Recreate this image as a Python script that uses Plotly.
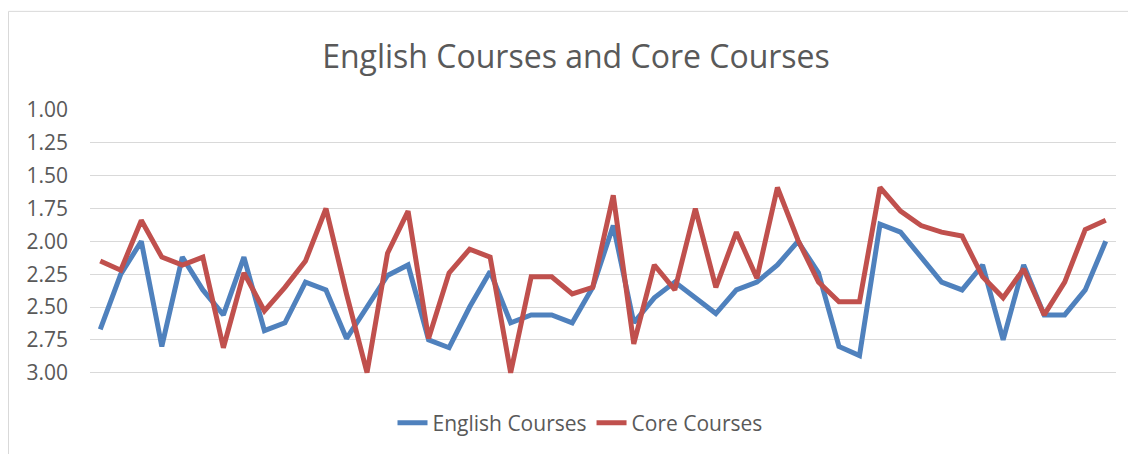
import plotly.graph_objects as go

categories = list(range(1, 51))

english = [2.67, 2.25, 2.00, 2.80, 2.12, 2.37, 2.56, 2.12, 2.68, 2.62,
           2.31, 2.37, 2.74, 2.50, 2.26, 2.18, 2.75, 2.81, 2.50, 2.23,
           2.62, 2.56, 2.56, 2.62, 2.35, 1.88, 2.62, 2.43, 2.31, 2.43,
           2.55, 2.37, 2.31, 2.18, 2.00, 2.24, 2.80, 2.87, 1.87, 1.93,
           2.12, 2.31, 2.37, 2.18, 2.75, 2.18, 2.56, 2.56, 2.37, 2.00]

core = [2.15, 2.22, 1.84, 2.12, 2.18, 2.12, 2.81, 2.24, 2.53, 2.35,
        2.15, 1.75, 2.40, 3.00, 2.09, 1.77, 2.74, 2.24, 2.06, 2.12,
        3.00, 2.27, 2.27, 2.40, 2.35, 1.65, 2.78, 2.18, 2.37, 1.75,
        2.35, 1.93, 2.28, 1.59, 1.99, 2.31, 2.46, 2.46, 1.59, 1.77,
        1.88, 1.93, 1.96, 2.27, 2.43, 2.21, 2.56, 2.31, 1.91, 1.84]

y_ticks = [1.00, 1.25, 1.50, 1.75, 2.00, 2.25, 2.50, 2.75, 3.00]
y_tick_text = ["1.00", "1.25", "1.50", "1.75", "2.00", "2.25", "2.50", "2.75", "3.00"]

FONT = "Open Sans"
GREY = "#595959"

fig = go.Figure()
fig.add_trace(go.Scatter(x=categories, y=english, mode="lines", name="English Courses",
                         line=dict(color="#4F81BD", width=5, shape="linear")))
fig.add_trace(go.Scatter(x=categories, y=core, mode="lines", name="Core Courses",
                         line=dict(color="#C0504D", width=5, shape="linear")))

# page is offset by the default 8px body margin
OFF = 8
W, H = 1136 - OFF, 454 - OFF
L, R, T, B = 90 - OFF, 20, 110 - OFF, 79
pw = W - L - R
ph = H - T - B

def px_x(p):
    return (p - OFF - L) / pw

def px_y(p):
    return (H - B - (p - OFF)) / ph

fig.add_shape(type="rect", xref="paper", yref="paper",
              x0=px_x(8.5), x1=px_x(1145), y0=px_y(470), y1=px_y(11),
              line=dict(color="#d9d9d9", width=1), fillcolor="rgba(0,0,0,0)", layer="below")

fig.update_layout(
    width=W, height=H,
    margin=dict(l=L, r=R, t=T, b=B),
    paper_bgcolor="white", plot_bgcolor="white",
    font=dict(family=FONT, color=GREY),
    title=dict(text="English Courses and Core Courses", x=px_x(576), xanchor="center",
               xref="paper", y=1 - (57 - OFF) / H, yanchor="middle",
               font=dict(family=FONT, size=32, color=GREY)),
    showlegend=True,
    legend=dict(orientation="h", x=px_x(580), xanchor="center", xref="paper",
                y=px_y(423), yanchor="middle", font=dict(family=FONT, size=21, color=GREY),
                itemwidth=30, bgcolor="rgba(0,0,0,0)"),
    xaxis=dict(range=[0.5, 50.5], showticklabels=False, showgrid=False, zeroline=False,
               showline=False, ticks=""),
    yaxis=dict(range=[3.01, 1.0], tickvals=y_ticks, ticktext=y_tick_text,
               showgrid=True, gridcolor="#d9d9d9", gridwidth=1, zeroline=False,
               showline=False, ticks="", ticklabelstandoff=21,
               tickfont=dict(family=FONT, size=21, color=GREY)),
)

fig.write_html("out.html")
